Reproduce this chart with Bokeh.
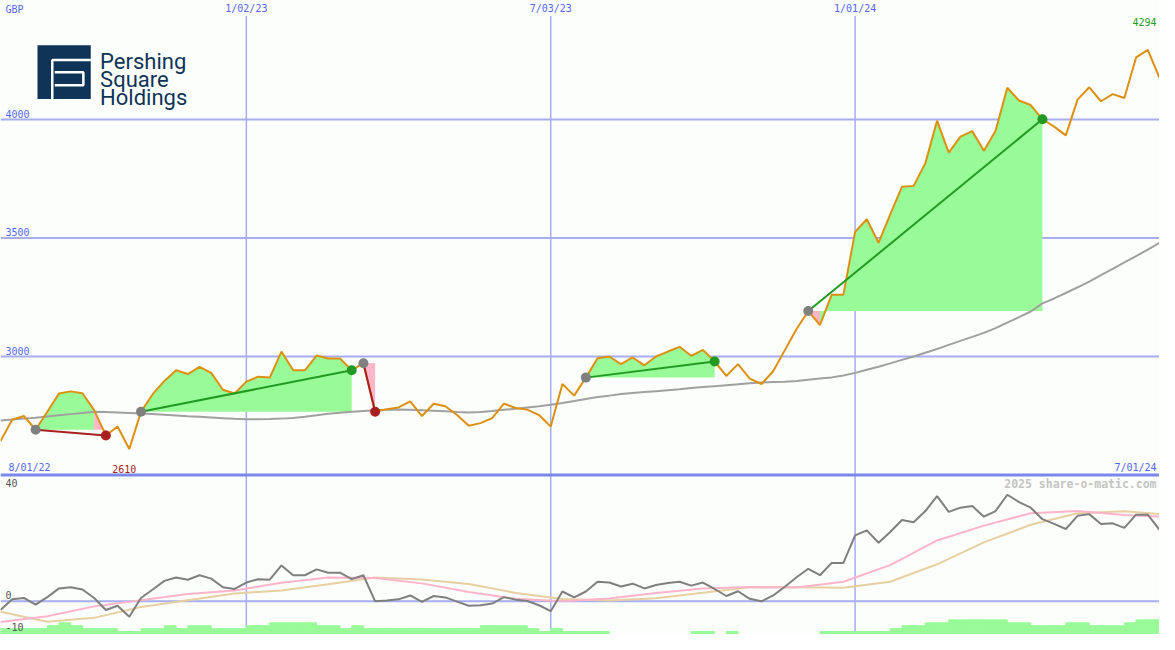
import pandas as pd
from bokeh.plotting import figure
from bokeh.models import Range1d, Span
from bokeh.core.properties import value
from bokeh.embed import file_html
from bokeh.resources import INLINE

# ---------------- data ----------------
first_week = "2022-08-08"
n_weeks = 100

price = [2643, 2733, 2749, 2691, 2767, 2844, 2853, 2845, 2774, 2667,
         2705, 2610, 2767, 2841, 2897, 2942, 2926, 2956, 2931, 2860,
         2844, 2894, 2915, 2911, 3021, 2942, 2942, 3004, 2992, 2992,
         2942, 2972, 2767, 2778, 2785, 2811, 2749, 2801, 2790, 2753,
         2708, 2719, 2740, 2801, 2783, 2776, 2753, 2705, 2884, 2835,
         2911, 2993, 3000, 2968, 2996, 2963, 3000, 3021, 3041, 3003,
         3028, 2979, 2918, 2968, 2907, 2884, 2938, 3027, 3116, 3192,
         3133, 3261, 3261, 3526, 3579, 3480, 3600, 3716, 3720, 3816,
         3995, 3860, 3928, 3951, 3868, 3953, 4134, 4080, 4061, 4001,
         3970, 3933, 4084, 4136, 4077, 4107, 4091, 4262, 4294, 4176]

price_ma = [2730, 2734, 2738, 2742, 2747, 2752, 2757, 2762, 2767, 2766,
            2764, 2762, 2760, 2757, 2754, 2751, 2748, 2746, 2743, 2740,
            2737, 2735, 2735, 2736, 2738, 2741, 2746, 2752, 2759, 2763,
            2767, 2770, 2773, 2775, 2777, 2775, 2773, 2771, 2769, 2766,
            2764, 2766, 2770, 2775, 2780, 2785, 2790, 2797, 2804, 2812,
            2821, 2829, 2835, 2842, 2846, 2850, 2854, 2858, 2862, 2867,
            2871, 2875, 2879, 2883, 2887, 2890, 2892, 2894, 2897, 2902,
            2907, 2912, 2920, 2931, 2944, 2957, 2971, 2986, 3000, 3016,
            3032, 3049, 3066, 3083, 3100, 3120, 3143, 3166, 3190, 3224,
            3245, 3268, 3292, 3316, 3343, 3370, 3397, 3424, 3451, 3480]

oscillator = [-3.1, 0.7, 1.2, -1.2, 1.5, 4.6, 5.0, 4.2, 1.2, -3.1,
              -1.6, -5.5, 1.2, 4.2, 7.3, 8.5, 7.7, 9.3, 8.1, 5.0,
              4.4, 6.7, 7.9, 7.7, 12.8, 9.3, 9.3, 11.4, 10.2, 10.2,
              7.9, 9.3, 0.0, 0.3, 0.7, 2.1, -0.2, 1.9, 1.4, -0.1,
              -1.6, -1.4, -0.8, 1.5, 0.6, 0.1, -1.4, -3.5, 3.5, 1.4,
              3.5, 7.0, 6.7, 5.3, 6.3, 4.6, 5.8, 6.5, 7.0, 5.6,
              6.7, 4.4, 1.9, 3.6, 0.9, 0.0, 2.1, 5.2, 8.6, 11.6,
              9.3, 13.7, 13.7, 23.5, 25.3, 20.9, 24.7, 29.0, 28.2, 32.2,
              37.5, 31.9, 33.4, 34.0, 30.2, 32.2, 38.0, 35.4, 33.4, 29.3,
              27.6, 25.8, 30.5, 31.1, 27.6, 27.8, 26.2, 30.9, 30.9, 25.5]

smooth_idx = [0, 4, 8, 12, 16, 20, 24, 28, 32, 36, 40, 44, 48,
              52, 56, 60, 64, 68, 72, 76, 80, 84, 88, 92, 96, 99]
smooth_pink = [-7.4, -5.3, -1.8, 0.4, 2.6, 3.9, 6.6, 8.5, 8.3, 6.4, 3.3, 0.9, 0.0,
               1.0, 3.0, 4.6, 5.1, 4.9, 7.0, 12.9, 21.7, 27.0, 31.4, 32.2, 30.8, 30.2]
smooth_tan = [-3.7, -7.3, -5.9, -2.0, 0.4, 2.8, 3.9, 6.1, 8.5, 7.8, 6.2, 3.0, 0.8,
              0.3, 1.1, 3.1, 5.0, 5.0, 4.8, 7.0, 13.2, 21.0, 27.3, 31.4, 32.1, 31.1]

strength = [2, 2, 2, 2, 3, 4, 3, 2, 2, 2,
            1, 1, 2, 2, 3, 2, 3, 3, 2, 2,
            2, 3, 3, 4, 4, 4, 4, 3, 3, 2,
            3, 2, 2, 2, 2, 2, 2, 2, 2, 2,
            2, 3, 3, 3, 3, 2, 1, 2, 1, 1,
            1, 1, 0, 0, 0, 0, 0, 0, 0, 1,
            1, 0, 1, 0, 0, 0, 0, 0, 0, 0,
            1, 1, 1, 1, 1, 1, 2, 3, 3, 4,
            4, 5, 5, 5, 5, 5, 4, 4, 3, 3,
            3, 4, 4, 3, 3, 3, 4, 5, 5, 5]

entry_idx = [3, 12, 31, 50, 69]
exit_idx = [9, 30, 32, 61, 89]

grid_dates = ["2023-01-02", "2023-07-03", "2024-01-01"]
grid_labels = ["1/02/23", "7/03/23", "1/01/24"]
price_levels = [3000, 3500, 4000]
ind_levels = [40, 0, -10]
currency = "GBP"
start_label, end_label = "8/01/22", "7/01/24"
low_label, high_label = "2610", "4294"
brand = ["Pershing", "Square", "Holdings"]
credit = "2025 share-o-matic.com"

# ---------------- layout / style ----------------
W, H = 1159, 634
REF_W, REF_H = 1175, 650          # reference pixel frame for decorations
PRICE_LO, PRICE_HI = 1827.2, 4502.1
IND_LO, IND_HI = -11.83, 214.26
LVL_HI = 216.67
LABEL_BAND = 16

BG = "#FCFEFC"
GRID = "#A6AEF0"
SEP = "#7A88EA"
PRICE_C = "#DD9010"
MA_C = "#A0A0A0"
GREEN_FILL = "#98FB98"
PINK_FILL = "#FFB6C8"
WIN = "#229A22"
LOSS = "#A82020"
ENTRY = "#808080"
OSC_C = "#7F7F7F"
PINK_L = "#FFB4CA"
TAN_L = "#E6CFA0"
LABEL_BLUE = "#5566EE"
AX_GRAY = "#555555"
CREDIT_C = "#C4C4C4"
NAVY = "#0F3457"
MONO = value("DejaVu Sans Mono")

ms = (pd.date_range(first_week, periods=n_weeks, freq="7D").asi8 // 10**6).tolist()
week_ms = 7 * 24 * 3600 * 1000
grid_ms = [pd.Timestamp(d).value // 10**6 for d in grid_dates]

p = figure(width=W, height=H, output_backend="svg", toolbar_location=None,
           x_axis_location=None, y_axis_location=None, min_border=0,
           x_range=Range1d(ms[0], ms[-1]), y_range=Range1d(PRICE_LO, PRICE_HI),
           background_fill_color=BG, border_fill_color=BG, outline_line_color=None)
p.xgrid.visible = False
p.ygrid.visible = False
p.extra_x_ranges = {"px": Range1d(0, REF_W)}
p.extra_y_ranges = {"py": Range1d(REF_H, 0),
                    "ind": Range1d(IND_LO, IND_HI),
                    "lvl": Range1d(0, LVL_HI)}

# grid lines
for lv in price_levels:
    p.add_layout(Span(location=lv, dimension="width", line_color=GRID,
                      line_width=2, level="underlay"))
p.add_layout(Span(location=0, dimension="width", y_range_name="ind",
                  line_color=GRID, line_width=2, level="underlay"))
p.segment(x0=grid_ms, x1=grid_ms, y0=[LABEL_BAND] * len(grid_ms), y1=[REF_H] * len(grid_ms),
          y_range_name="py", line_color=GRID, line_width=1.5)

# trade fills
fill_xs, fill_ys, fill_c = [], [], []
for e, x in zip(entry_idx, exit_idx):
    base = price[e]
    cols = [GREEN_FILL if price[i + 1] >= base else PINK_FILL for i in range(e, x)]
    i = e
    while i < x:
        c = cols[i - e]
        j = i
        while j < x and cols[j - e] == c:
            j += 1
        run = list(range(i, j + 1))
        fill_xs.append([ms[i]] + [ms[k] for k in run] + [ms[j]])
        fill_ys.append([base] + [price[k] for k in run] + [base])
        fill_c.append(c)
        i = j
p.patches(fill_xs, fill_ys, fill_color=fill_c, line_color=None)

# lower panel
lv_idx = [i for i, v in enumerate(strength) if v > 0]
p.quad(left=[ms[i] for i in lv_idx], right=[ms[i] + week_ms for i in lv_idx],
       bottom=0, top=[strength[i] for i in lv_idx], y_range_name="lvl",
       fill_color=GREEN_FILL, line_color=GREEN_FILL, line_width=1)
p.add_layout(Span(location=2500, dimension="width", line_color=SEP, line_width=3))
sx = [ms[i] for i in smooth_idx]
p.line(sx, smooth_tan, y_range_name="ind", line_color=TAN_L, line_width=2)
p.line(sx, smooth_pink, y_range_name="ind", line_color=PINK_L, line_width=2)
p.line(ms, oscillator, y_range_name="ind", line_color=OSC_C, line_width=2)

# price + moving average
p.line(ms, price_ma, line_color=MA_C, line_width=2)
p.line(ms, price, line_color=PRICE_C, line_width=2)

# trades
tcol = [WIN if price[x] >= price[e] else LOSS for e, x in zip(entry_idx, exit_idx)]
p.segment(x0=[ms[e] for e in entry_idx], y0=[price[e] for e in entry_idx],
          x1=[ms[x] for x in exit_idx], y1=[price[x] for x in exit_idx],
          line_color=tcol, line_width=2)
p.scatter([ms[e] for e in entry_idx], [price[e] for e in entry_idx], size=10,
          fill_color=ENTRY, line_color=None)
p.scatter([ms[x] for x in exit_idx], [price[x] for x in exit_idx], size=10,
          fill_color=tcol, line_color=None)

# labels
p.text(x=grid_ms, y=[3] * len(grid_ms), text=grid_labels, y_range_name="py",
       text_font=MONO, text_font_size="10px", text_color=LABEL_BLUE,
       text_align="center", text_baseline="top")
p.text(x=[5] * len(price_levels), y=price_levels, text=[str(v) for v in price_levels],
       x_range_name="px", text_font=MONO, text_font_size="10px", text_color=LABEL_BLUE,
       text_baseline="bottom", y_offset=-2)
p.text(x=[5], y=[4], text=[currency], x_range_name="px", y_range_name="py",
       text_font=MONO, text_font_size="10px", text_color=LABEL_BLUE, text_baseline="top")
p.text(x=[5] * len(ind_levels), y=ind_levels, text=[str(v) for v in ind_levels],
       x_range_name="px", y_range_name="ind", text_font=MONO, text_font_size="10px",
       text_color=AX_GRAY, text_baseline="bottom", y_offset=[-2, -2, 2])
p.text(x=[8], y=[484], text=[start_label], x_range_name="px", y_range_name="py",
       text_font=MONO, text_font_size="10px", text_color=LABEL_BLUE, text_baseline="bottom")
p.text(x=[1172], y=[484], text=[end_label], x_range_name="px", y_range_name="py",
       text_font=MONO, text_font_size="10px", text_color=LABEL_BLUE,
       text_align="right", text_baseline="bottom")
low_i = price.index(min(price))
p.text(x=[ms[low_i]], y=[484], text=[low_label], y_range_name="py",
       text_font=MONO, text_font_size="10px", text_color=LOSS,
       text_align="center", text_baseline="bottom", x_offset=-5)
p.text(x=[1172], y=[26], text=[high_label], x_range_name="px", y_range_name="py",
       text_font=MONO, text_font_size="10px", text_color=WIN,
       text_align="right", text_baseline="bottom")
p.text(x=[1172], y=[489], text=[credit], x_range_name="px", y_range_name="py",
       text_font=MONO, text_font_size="11.5px", text_font_style="bold",
       text_color=CREDIT_C, text_align="right", text_baseline="top")

# logo
p.quad(left=[37.5], right=[91.5], top=[46], bottom=[101], x_range_name="px",
       y_range_name="py", fill_color=NAVY, line_color=None)
p.multi_line(xs=[[52.5, 52.5, 91.5], [55, 84, 84, 55]],
             ys=[[101, 61, 61], [73.5, 73.5, 87, 87]],
             x_range_name="px", y_range_name="py", line_color="white", line_width=2.5)
p.text(x=[101] * 3, y=[63, 81.5, 99.5], text=brand, x_range_name="px", y_range_name="py",
       text_font=value("Roboto"), text_font_size="22px", text_color=NAVY,
       text_baseline="alphabetic")

open("out.html", "w").write(file_html(p, INLINE))
